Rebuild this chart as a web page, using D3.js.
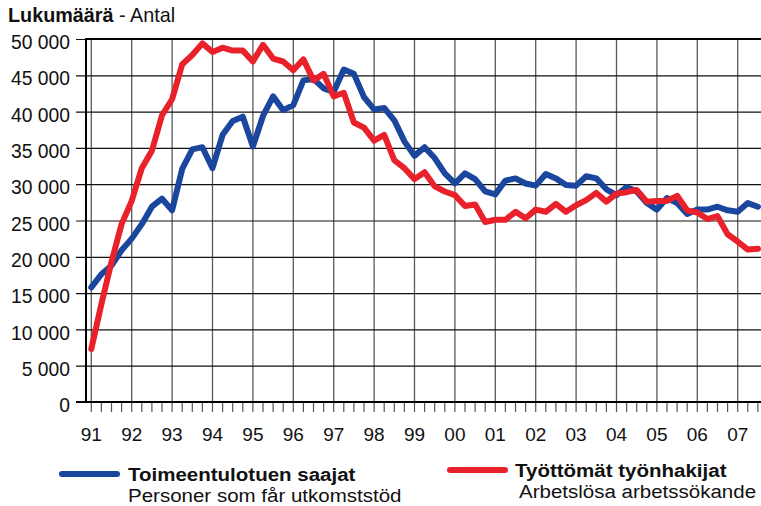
<!DOCTYPE html>
<html>
<head>
    <meta charset="utf-8">
    <title>Lukumäärä - Antal</title>
    <script src="https://d3js.org/d3.v7.min.js"></script>
    <style>
        body { margin: 0; background: #fff; }
        text { font-family: "Liberation Sans", Arial, sans-serif; }
    </style>
</head>
<body>
    <script>
        // quarterly series, 1991 Q1 .. 2007 Q3
        const startYear = 1991;
        const yearLabels = ["91", "92", "93", "94", "95", "96", "97", "98", "99",
            "00", "01", "02", "03", "04", "05", "06", "07"];
        const yTicks = [0, 5000, 10000, 15000, 20000, 25000, 30000, 35000, 40000, 45000, 50000];

        const toimeentulotuki = [
            15800, 17600, 18800, 20900, 22500, 24500, 26900, 28000,
            26400, 32100, 34800, 35100, 32200, 36800, 38700, 39300,
            35200, 39400, 42100, 40200, 40900, 44300, 44500, 43200,
            42700, 45800, 45200, 42000, 40300, 40500, 38800, 35900,
            33900, 35100, 33600, 31500, 30100, 31500, 30700, 29000,
            28600, 30500, 30800, 30100, 29800, 31400, 30800, 29900,
            29800, 31100, 30800, 29300, 28500, 29600, 29000, 27400,
            26500, 28100, 27400, 25900, 26500, 26500, 26900, 26400,
            26200, 27400, 26900
        ];
        const tyottomat = [
            7300, 13500, 19300, 24500, 27700, 32200, 34600, 39500,
            41700, 46500, 47800, 49400, 48200, 48800, 48400, 48400,
            46900, 49200, 47300, 46900, 45700, 47200, 44300, 45200,
            42100, 42600, 38500, 37800, 36000, 36800, 33300, 32200,
            30700, 31650, 29700, 29000, 28500, 27000, 27200, 24800,
            25100, 25100, 26200, 25300, 26500, 26200, 27300, 26200,
            27100, 27800, 28800, 27600, 28700, 28900, 29200, 27600,
            27700, 27700, 28400, 26400, 26100, 25200, 25600, 23100,
            22100, 21000, 21100
        ];

        const series = [
            { values: toimeentulotuki, color: "#1b469d", title: "Toimeentulotuen saajat", sub: "Personer som får utkomststöd" },
            { values: tyottomat, color: "#e8212b", title: "Työttömät työnhakijat", sub: "Arbetslösa arbetssökande" }
        ];

        const width = 761;
        const height = 506;
        const frame = { left: 86, top: 39, bottom: 402, right: 761 };

        const x = d3.scaleLinear()
            .domain([1991, 2007])
            .range([91.3, 737.7]);

        const y = d3.scaleLinear()
            .domain([0, 50000])
            .range([frame.bottom, frame.top]);

        const svg = d3.select("body")
            .append("svg")
            .attr("width", width)
            .attr("height", height);

        // title
        const title = svg.append("text")
            .attr("x", 8)
            .attr("y", 22)
            .attr("font-size", "19.8px")
            .attr("fill", "#111");
        title.append("tspan").attr("font-weight", "bold").text("Lukumäärä");
        title.append("tspan").text(" - Antal");

        // vertical year grid
        const yearValues = yearLabels.map((d, i) => startYear + i);
        svg.append("g")
            .selectAll("line")
            .data(yearValues)
            .enter()
            .append("line")
            .attr("x1", d => x(d))
            .attr("x2", d => x(d))
            .attr("y1", frame.top)
            .attr("y2", frame.bottom)
            .attr("stroke", "#5a5a5a")
            .attr("stroke-width", 1.3);

        // horizontal grid + y labels
        const yAxis = d3.axisLeft(y)
            .tickValues(yTicks)
            .tickSize(-(frame.right - frame.left))
            .tickPadding(6)
            .tickFormat(d => d3.format(",")(d).replace(",", " "));

        const yg = svg.append("g")
            .attr("transform", `translate(${frame.left},0)`)
            .call(yAxis);
        yg.select(".domain").remove();
        yg.selectAll(".tick line")
            .attr("x1", -10)
            .attr("stroke", "#111")
            .attr("stroke-width", 1.2);
        yg.selectAll(".tick text")
            .attr("x", -16)
            .attr("dy", "0.5em")
            .attr("font-size", "19.3px")
            .attr("fill", "#111")
            .attr("font-family", "'Liberation Sans', Arial, sans-serif");

        // quarter ticks below axis
        const quarterTicks = d3.range(0, 67).map(i => startYear + i * 0.25);
        svg.append("g")
            .selectAll("line")
            .data(quarterTicks)
            .enter()
            .append("line")
            .attr("x1", d => x(d))
            .attr("x2", d => x(d))
            .attr("y1", frame.bottom)
            .attr("y2", frame.bottom + 10)
            .attr("stroke", "#555")
            .attr("stroke-width", 1.2);

        // year labels
        svg.append("g")
            .selectAll("text")
            .data(yearLabels)
            .enter()
            .append("text")
            .attr("x", (d, i) => x(startYear + i))
            .attr("y", 441)
            .attr("text-anchor", "middle")
            .attr("font-size", "19px")
            .attr("fill", "#111")
            .text(d => d);

        // frame: left, top, bottom
        svg.append("line")
            .attr("x1", frame.left).attr("x2", frame.left)
            .attr("y1", frame.top - 1).attr("y2", frame.bottom + 1)
            .attr("stroke", "#000").attr("stroke-width", 2);
        svg.append("line")
            .attr("x1", frame.left).attr("x2", frame.right)
            .attr("y1", frame.top).attr("y2", frame.top)
            .attr("stroke", "#000").attr("stroke-width", 2.2);
        svg.append("line")
            .attr("x1", frame.left - 10).attr("x2", frame.right)
            .attr("y1", frame.bottom).attr("y2", frame.bottom)
            .attr("stroke", "#000").attr("stroke-width", 2.2);

        // series lines
        const line = d3.line()
            .x((d, i) => x(startYear + i * 0.25))
            .y(d => y(d));

        svg.append("g")
            .selectAll("path")
            .data(series)
            .enter()
            .append("path")
            .attr("d", d => line(d.values))
            .attr("fill", "none")
            .attr("stroke", d => d.color)
            .attr("stroke-width", 6)
            .attr("stroke-linejoin", "round")
            .attr("stroke-linecap", "round");

        // legend
        const legendPos = [
            { x: 62, y: 474, tx: 128, ty1: 481, ty2: 502 },
            { x: 450, y: 470, tx: 515, ty1: 477, ty2: 498 }
        ];
        const legend = svg.append("g")
            .selectAll("g")
            .data(series)
            .enter()
            .append("g");

        legend.append("line")
            .attr("x1", (d, i) => legendPos[i].x)
            .attr("x2", (d, i) => legendPos[i].x + 55)
            .attr("y1", (d, i) => legendPos[i].y)
            .attr("y2", (d, i) => legendPos[i].y)
            .attr("stroke", d => d.color)
            .attr("stroke-width", 6)
            .attr("stroke-linecap", "round");

        // legend text: measure at full size, then draw a bit shorter so
        // the two lines don't collide, keeping the original width
        function fitText(sel) {
            sel.each(function () {
                const w = this.getComputedTextLength();
                d3.select(this)
                    .attr("font-size", "18px")
                    .attr("textLength", w)
                    .attr("lengthAdjust", "spacingAndGlyphs");
            });
        }

        legend.append("text")
            .attr("x", (d, i) => legendPos[i].tx)
            .attr("y", (d, i) => legendPos[i].ty1)
            .attr("font-size", "20.5px")
            .attr("font-weight", "bold")
            .attr("fill", "#111")
            .text(d => d.title)
            .call(fitText);

        legend.append("text")
            .attr("x", (d, i) => legendPos[i].tx + (i === 1 ? 4 : 0))
            .attr("y", (d, i) => legendPos[i].ty2)
            .attr("font-size", "20.5px")
            .attr("fill", "#111")
            .text(d => d.sub)
            .call(fitText);
    </script>
</body>
</html>
